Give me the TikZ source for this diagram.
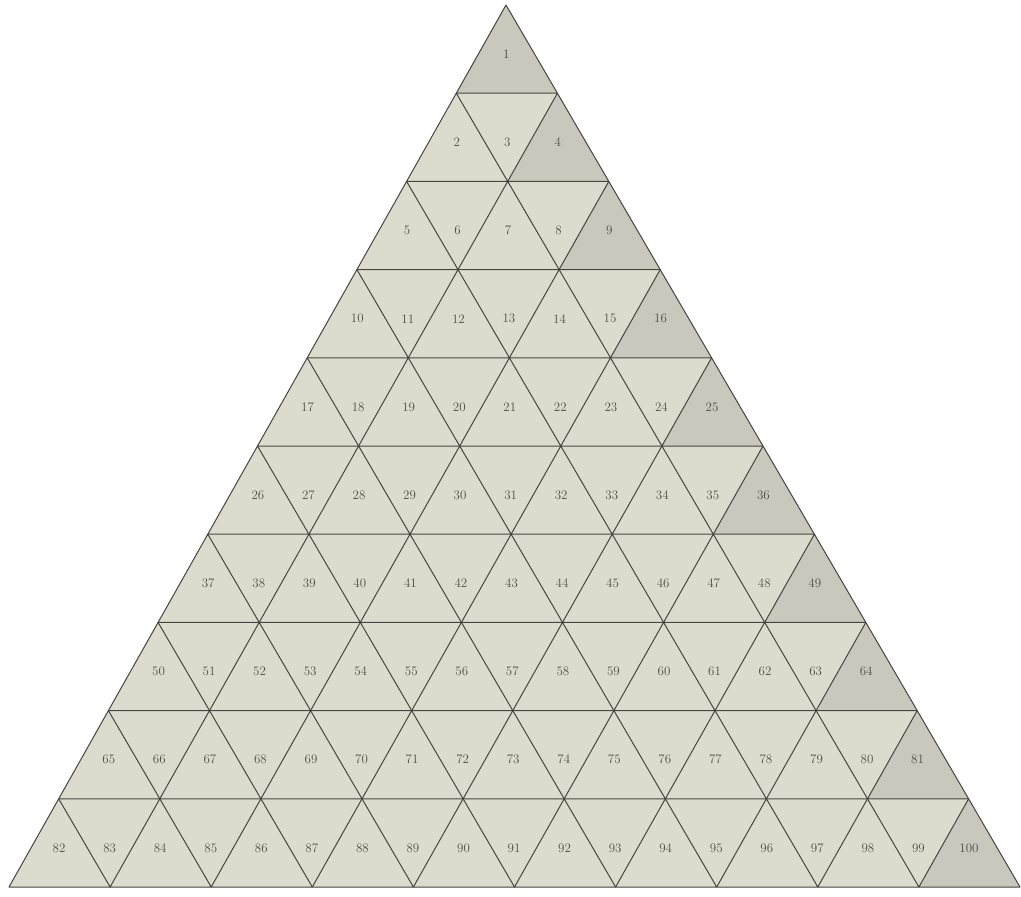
\documentclass[tikz,border=0pt]{standalone}
\definecolor{paper}{HTML}{DCDCCE}
\definecolor{greyfill}{HTML}{C8C8BC}
\definecolor{ink}{HTML}{46463F}
\definecolor{num}{HTML}{4E4E47}
\begin{document}
\begin{tikzpicture}[x=1pt,y=-1pt,
  cell/.style={draw=ink, line width=1pt, line join=round},
  lbl/.style={text=num, font=\fontsize{13}{13}\selectfont, inner sep=0pt}]
\useasboundingbox (0,0) rectangle (1021,897);
\fill[white] (0,0) rectangle (1021,897);
% vertices of the grid
\foreach \r in {0,...,10}{
  \foreach \j in {0,...,\r}{
    \coordinate (v-\r-\j) at ({506-49.7*\r+101.1*\j},{5+88.2*\r});
  }
}
% paper
\fill[fill=paper] (v-0-0) -- (v-10-0) -- (v-10-10) -- cycle;
% shaded last triangle of each row
\foreach \r in {1,...,10}{
  \pgfmathtruncatemacro\p{\r-1}
  \fill[fill=greyfill] (v-\p-\p) -- (v-\r-\p) -- (v-\r-\r) -- cycle;
}
% grid lines (outline of every upward triangle)
\foreach \r in {1,...,10}{
  \pgfmathtruncatemacro\p{\r-1}
  \foreach \k in {0,...,\p}{
    \pgfmathtruncatemacro\q{\k+1}
    \draw[cell] (v-\p-\k) -- (v-\r-\k) -- (v-\r-\q) -- cycle;
  }
}
% numbers
\foreach \r in {1,...,10}{
  \pgfmathtruncatemacro\m{2*\r-2}
  \foreach \i in {0,...,\m}{
    \pgfmathtruncatemacro\n{(\r-1)*(\r-1)+1+\i}
    \pgfmathsetmacro\x{506-49.7*\r+50.55*\i+50.1}
    \pgfmathsetmacro\y{5+88.2*(\r-0.5)+5}
    \node[lbl] (t\n) at (\x,\y) {\n};
  }
}
\end{tikzpicture}
\end{document}
